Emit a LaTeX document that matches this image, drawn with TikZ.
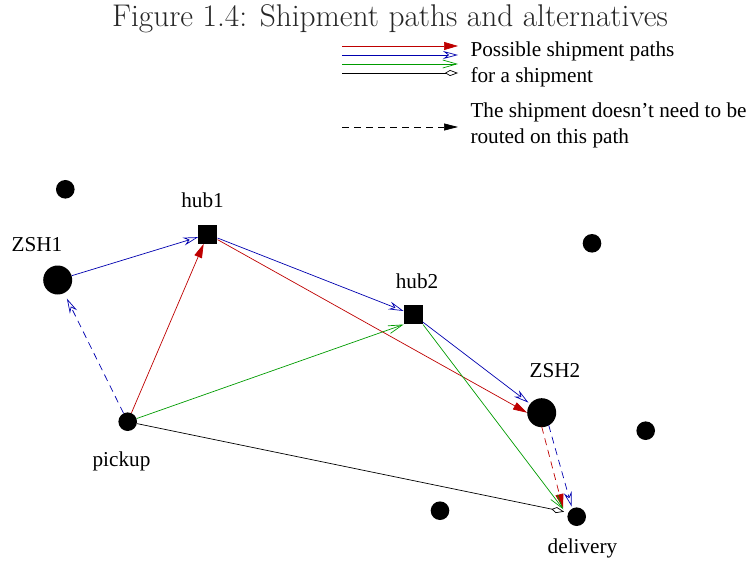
\documentclass[tikz,border=0pt]{standalone}
\usepackage{fontspec}
\newfontfamily\timesf{Liberation Serif}
\usetikzlibrary{arrows.meta}
\definecolor{xred}{RGB}{190,0,0}
\definecolor{xblue}{RGB}{0,0,175}
\definecolor{xgreen}{RGB}{0,155,0}
\begin{document}
\begin{tikzpicture}[x=1bp,y=-1bp,
  dotS/.style={circle,fill=black,inner sep=0pt,minimum size=18.6bp},
  dotL/.style={circle,fill=black,inner sep=0pt,minimum size=29bp},
  hubsq/.style={rectangle,fill=black,inner sep=0pt,minimum size=19bp},
  lbl/.style={font=\timesf\fontsize{21.3}{25}\selectfont,anchor=base},
  legtxt/.style={font=\timesf\fontsize{21.3}{25}\selectfont,anchor=base west},
  titletxt/.style={font=\fontsize{31.5}{36}\selectfont,anchor=base,text=black!85},
  conn/.style={line width=0.7bp},
  redarr/.style={conn,draw=xred,-{Triangle[length=14bp,width=8bp,fill=xred]}},
  bluearr/.style={conn,draw=xblue,-{Stealth[open,length=15bp,width=8bp,inset=5bp]}},
  greenarr/.style={conn,draw=xgreen,-{Straight Barb[length=14bp,width=8bp]}},
  blackarr/.style={conn,draw=black,-{Kite[open,length=13bp,width=6bp,inset=5bp]}},
  legdash/.style={conn,draw=black,dash pattern=on 7bp off 5bp,-{Triangle[length=14bp,width=7bp]}},
  dashpat/.style={dash pattern=on 7bp off 5bp}
]
\useasboundingbox (0,0) rectangle (749,567);

% title
\node[titletxt] (title) at (390,27) {Figure 1.4: Shipment paths and alternatives};

% legend
\coordinate (lra) at (342,46);  \coordinate (lrb) at (458,46);
\coordinate (lba) at (342,55);  \coordinate (lbb) at (458,55);
\coordinate (lga) at (342,64);  \coordinate (lgb) at (458,64);
\coordinate (lka) at (342,73);  \coordinate (lkb) at (458,73);
\coordinate (lda) at (342,127); \coordinate (ldb) at (458,127);
\draw[redarr] (lra) -- (lrb);
\draw[bluearr] (lba) -- (lbb);
\draw[greenarr] (lga) -- (lgb);
\draw[blackarr] (lka) -- (lkb);
\draw[legdash] (lda) -- (ldb);
\node[legtxt] (leg1) at (467,56.7) {Possible shipment paths};
\node[legtxt] (leg2) at (467,82.3) {for a shipment};
\node[legtxt] (leg3) at (467,118) {The shipment doesn’t need to be};
\node[legtxt] (leg4) at (467,144) {routed on this path};

% nodes
\node[dotS] (d1) at (65.3,189.3) {};
\node[dotS] (d2) at (592,243.3) {};
\node[dotS] (d3) at (645.7,430.7) {};
\node[dotS] (d4) at (440,510.7) {};
\node[dotL] (ZSH1) at (57.7,280) {};
\node[dotL] (ZSH2) at (541.7,412.7) {};
\node[hubsq] (hub1) at (207.8,234.2) {};
\node[hubsq] (hub2) at (413.3,314.8) {};
\node[dotS] (pickup) at (127.7,421.7) {};
\node[dotS] (delivery) at (576.7,516.7) {};

% labels
\node[lbl] (tZSH1) at (37,251.7) {ZSH1};
\node[lbl] (thub1) at (202.5,208) {hub1};
\node[lbl] (thub2) at (417,288) {hub2};
\node[lbl] (tZSH2) at (555,377) {ZSH2};
\node[lbl] (tpickup) at (121.5,466) {pickup};
\node[lbl] (tdelivery) at (582.5,553) {delivery};

% blue path
\draw[bluearr] (ZSH1) -- (hub1);
\draw[bluearr] (hub1) -- (hub2);
\draw[bluearr,shorten >=2bp] (hub2) -- (ZSH2);
\draw[bluearr,dashpat,shorten >=6bp] (pickup) -- (ZSH1);
\draw[bluearr,dashpat] ([shift={(7,12.5)}]ZSH2.center) -- ([shift={(-5,-10)}]delivery.center);

% red path
\draw[redarr] (pickup) -- (hub1);
\draw[redarr] (hub1) -- (ZSH2.west);
\draw[redarr,dashpat] ([shift={(0,14)}]ZSH2.center) -- ([shift={(-13.7,-8.7)}]delivery.center);

% green path
\draw[greenarr] (pickup) -- (hub2.south west);
\draw[greenarr] (hub2.south east) -- ([shift={(-13.4,-7.4)}]delivery.center);

% black path
\draw[blackarr] (pickup) -- ([shift={(-12.5,-5)}]delivery.center);
\end{tikzpicture}
\end{document}
